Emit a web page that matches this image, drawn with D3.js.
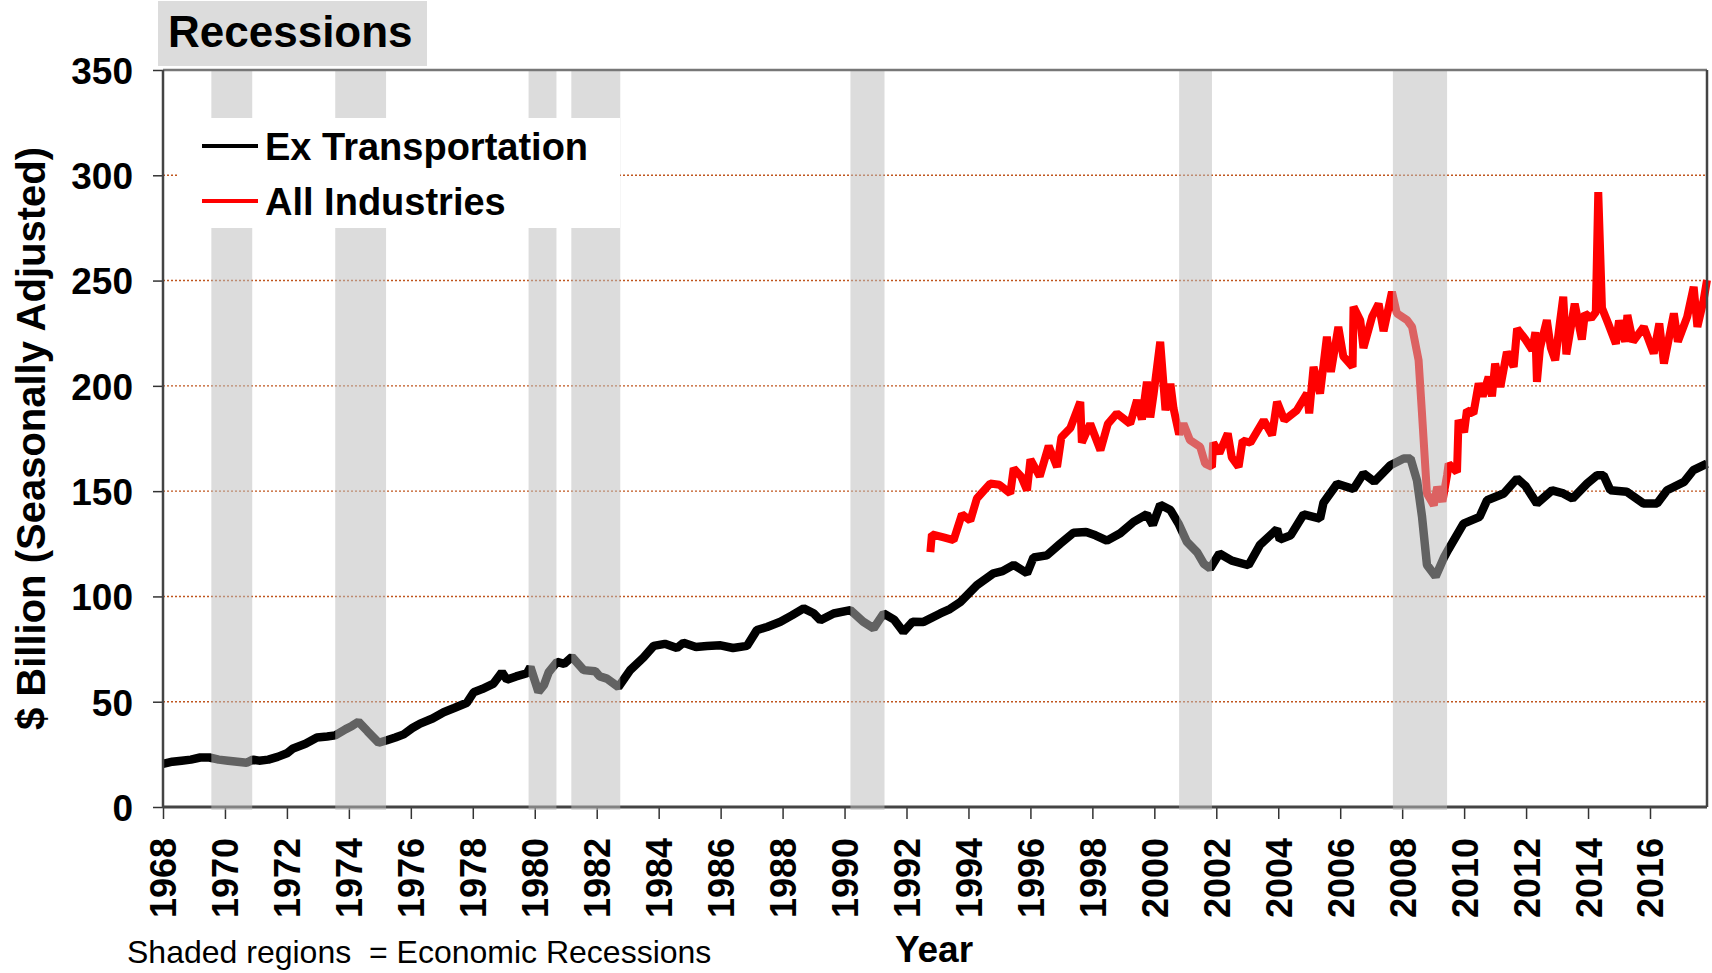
<!DOCTYPE html>
<html>
<head>
<meta charset="utf-8">
<script src="https://cdn.jsdelivr.net/npm/d3@7"></script>
<style>
  html, body { margin: 0; padding: 0; background: #fff; }
  svg { display: block; font-family: "Liberation Sans", Arial, sans-serif; }
</style>
</head>
<body>
<svg id="chart"></svg>
<script>
// [decimal year, $ billion]
const exTransportation = [
  [1968.0, 20.5], [1968.3, 21.5], [1968.6, 22], [1968.9, 22.5], [1969.2, 23.5], [1969.5, 23.5],
  [1969.8, 22.5], [1970.1, 22], [1970.4, 21.5], [1970.7, 21], [1970.9, 22.5], [1971.1, 22],
  [1971.4, 22.5], [1971.7, 23.8], [1972.0, 25.5], [1972.2, 27.8], [1972.6, 30], [1972.97, 33],
  [1973.3, 33.5], [1973.56, 34], [1973.9, 37], [1974.1, 38.5], [1974.31, 40.5], [1974.6, 36],
  [1974.96, 30.5], [1975.23, 31.7], [1975.5, 33], [1975.77, 34.5], [1976.05, 37.5], [1976.3, 39.6],
  [1976.7, 42], [1977.06, 45], [1977.4, 47], [1977.81, 49.5], [1978.03, 54.5], [1978.3, 56],
  [1978.67, 58.6], [1978.94, 64], [1979.1, 60.5], [1979.4, 62], [1979.75, 63.5], [1979.86, 66.5],
  [1980.12, 54.7], [1980.3, 58], [1980.45, 64], [1980.72, 68.9], [1980.95, 68], [1981.2, 71.3],
  [1981.58, 65], [1981.95, 64.5], [1982.1, 62], [1982.33, 61], [1982.7, 57], [1983.08, 65],
  [1983.51, 71], [1983.84, 76.5], [1984.2, 77.5], [1984.59, 75.5], [1984.8, 78], [1985.2, 76],
  [1985.56, 76.5], [1986.0, 76.8], [1986.4, 75.5], [1986.85, 76.5], [1987.17, 84], [1987.5, 85.5],
  [1987.93, 88], [1988.3, 91], [1988.68, 94.3], [1989.0, 92], [1989.22, 88.7], [1989.65, 91.9],
  [1990.19, 93.5], [1990.6, 88], [1990.94, 84.8], [1991.26, 91.9], [1991.6, 89], [1991.9, 83.2],
  [1992.2, 88], [1992.55, 87.9], [1993.09, 91.9], [1993.4, 94], [1993.74, 97.4], [1994.27, 105.3],
  [1994.81, 111], [1995.1, 112], [1995.46, 115], [1995.89, 111], [1996.1, 118.5], [1996.53, 119.5],
  [1996.96, 125], [1997.39, 130.2], [1997.8, 130.6], [1998.1, 129], [1998.47, 126.5], [1998.9, 130],
  [1999.33, 135.4], [1999.76, 139], [1999.95, 134], [2000.19, 143.5], [2000.52, 141], [2000.78, 134.6],
  [2001.05, 126], [2001.38, 121], [2001.6, 115.5], [2001.8, 113.3], [2002.1, 120.4], [2002.5, 117],
  [2003.04, 114.8], [2003.41, 124.5], [2003.96, 132], [2004.05, 127], [2004.4, 129], [2004.82, 139],
  [2005.35, 137], [2005.46, 144.5], [2005.9, 153.5], [2006.43, 151], [2006.75, 158.4], [2007.1, 154.5],
  [2007.62, 162.3], [2008.05, 165.5], [2008.27, 165.5], [2008.48, 155], [2008.64, 138], [2008.8, 115],
  [2009.08, 109.5], [2009.36, 118.8], [2009.5, 122.5], [2009.98, 134.6], [2010.5, 137.8], [2010.74, 145.7],
  [2011.28, 148.9], [2011.71, 156], [2011.98, 152.5], [2012.35, 144.1], [2012.84, 150.4], [2013.2, 148.9],
  [2013.5, 146.5], [2013.97, 153.6], [2014.29, 157.6], [2014.5, 157.6], [2014.72, 150.4], [2015.25, 149.7],
  [2015.79, 144.1], [2016.23, 144.1], [2016.55, 150.4], [2017.1, 154.4], [2017.4, 160], [2017.84, 163.1]
];

const allIndustries = [
  [1992.77, 121], [1992.82, 129.5], [1993.2, 128], [1993.52, 126.7], [1993.79, 139], [1994.06, 136],
  [1994.27, 146.5], [1994.7, 153.6], [1995.0, 153], [1995.35, 148.9], [1995.46, 160.8], [1995.7, 157],
  [1995.89, 150.4], [1996.0, 165], [1996.3, 157], [1996.59, 171.5], [1996.86, 161.5], [1997.0, 175.6],
  [1997.29, 180], [1997.61, 192.4], [1997.66, 173], [1997.93, 182], [1998.26, 169.4], [1998.5, 182],
  [1998.79, 186.9], [1999.22, 182], [1999.44, 193.2], [1999.6, 184], [1999.76, 202], [1999.87, 185],
  [1999.98, 196.4], [2000.19, 220.9], [2000.36, 188.4], [2000.52, 201], [2000.62, 189.3], [2000.8, 177],
  [2000.94, 182], [2001.15, 174.2], [2001.48, 171], [2001.64, 163.1], [2001.86, 161.5], [2001.9, 173],
  [2002.1, 168], [2002.37, 177.4], [2002.5, 166], [2002.72, 161.5], [2002.85, 174], [2003.1, 173],
  [2003.53, 183.7], [2003.8, 176.6], [2003.96, 192.4], [2004.2, 183.7], [2004.6, 188.4], [2004.93, 196.4],
  [2005.0, 186.9], [2005.14, 209], [2005.35, 196.4], [2005.57, 223.3], [2005.7, 206.6], [2005.94, 228],
  [2006.1, 214], [2006.4, 209], [2006.43, 237.5], [2006.65, 231], [2006.75, 218], [2007.03, 232.8],
  [2007.24, 239], [2007.4, 226], [2007.67, 244.6], [2007.83, 234.4], [2008.16, 231.2], [2008.32, 228],
  [2008.53, 212.2], [2008.64, 186.9], [2008.8, 148.9], [2009.02, 143.3], [2009.13, 152], [2009.3, 145],
  [2009.45, 157.6], [2009.5, 163], [2009.77, 159], [2009.82, 183.7], [2010.0, 178], [2010.09, 188.4],
  [2010.3, 186.9], [2010.47, 201.1], [2010.6, 195], [2010.79, 204.3], [2010.9, 195], [2011.0, 210.6],
  [2011.17, 199.5], [2011.38, 216.1], [2011.6, 209], [2011.71, 227.2], [2011.98, 222], [2012.2, 217],
  [2012.3, 225.5], [2012.35, 201.9], [2012.45, 218], [2012.67, 231.2], [2012.8, 218], [2012.94, 212.2],
  [2013.1, 231], [2013.2, 242.3], [2013.3, 215], [2013.57, 239], [2013.8, 222], [2013.9, 234.4],
  [2014.1, 232], [2014.25, 235], [2014.33, 292], [2014.45, 237], [2014.65, 229.6], [2014.9, 220],
  [2015.0, 231], [2015.2, 221], [2015.27, 233.6], [2015.45, 221], [2015.8, 228], [2016.12, 215.4],
  [2016.3, 229.6], [2016.45, 210.6], [2016.77, 234.4], [2016.9, 221], [2017.2, 232.8], [2017.41, 247],
  [2017.53, 228], [2017.73, 240.7], [2017.84, 250.2]
];

// recession shading, start / end year as drawn
const recessions = [
  [1969.56, 1970.88], [1973.56, 1975.2], [1979.8, 1980.7], [1981.18, 1982.76],
  [1990.19, 1991.29], [2000.8, 2001.86], [2007.7, 2009.45]
];

const yTicks = [0, 50, 100, 150, 200, 250, 300, 350];
const xTicks = d3.range(1968, 2017, 2);

const legendItems = [
  {name: "Ex Transportation", color: "#000000"},
  {name: "All Industries", color: "#ff0000"}
];

const W = 1712, H = 973;
const margin = {top: 70, right: 5, bottom: 166, left: 163};
const width = W - margin.left - margin.right,
  height = H - margin.top - margin.bottom;

const svg = d3.select("#chart").attr("width", W).attr("height", H);

const x = d3.scaleLinear().domain([1968, 2017.84]).range([0, width]);
const y = d3.scaleLinear().domain([0, 350]).range([height, 0]);

const g = svg.append("g")
  .attr("transform", "translate(" + margin.left + "," + margin.top + ")");

// dotted grid
g.selectAll(".grid")
  .data(yTicks.filter(d => d > 0 && d < 350))
  .enter().append("line")
  .attr("x1", 0).attr("x2", width)
  .attr("y1", d => y(d)).attr("y2", d => y(d))
  .style("stroke", "#c0561e")
  .style("stroke-width", 1.4)
  .style("stroke-dasharray", "2,2");

// axes
const yAxis = g.append("g")
  .call(d3.axisLeft(y).tickValues(yTicks).tickSize(10).tickPadding(20));
yAxis.select(".domain").remove();
yAxis.selectAll(".tick line").style("stroke", "#333").style("stroke-width", 1.5);
yAxis.selectAll("text")
  .style("font-size", "37px").style("font-weight", "bold").style("fill", "#000")
  .attr("dy", "0.36em");

const xAxis = g.append("g")
  .attr("transform", "translate(0," + height + ")")
  .call(d3.axisBottom(x).tickValues(xTicks).tickFormat(d3.format("d")).tickSize(12));
xAxis.select(".domain").remove();
xAxis.selectAll(".tick line").style("stroke", "#333").style("stroke-width", 1.5);
xAxis.selectAll("text")
  .style("font-size", "36px").style("font-weight", "bold").style("fill", "#000")
  .style("text-anchor", "end")
  .attr("transform", "rotate(-90)")
  .attr("x", -31).attr("y", 0).attr("dy", "0.36em");

// series
const line = d3.line().x(d => x(d[0])).y(d => y(d[1]));

g.append("path")
  .datum(exTransportation)
  .attr("d", line)
  .style("fill", "none").style("stroke", "#000")
  .style("stroke-width", 8.5).style("stroke-linejoin", "bevel");

g.append("path")
  .datum(allIndustries)
  .attr("d", line)
  .style("fill", "none").style("stroke", "#ff0000")
  .style("stroke-width", 8).style("stroke-linejoin", "bevel");

// bottom axis line
g.append("line")
  .attr("x1", 0).attr("x2", width).attr("y1", height).attr("y2", height)
  .style("stroke", "#444").style("stroke-width", 3);

// recession bands lie over the lines, washing them out
g.selectAll(".recession")
  .data(recessions)
  .enter().append("rect")
  .attr("x", d => x(d[0]))
  .attr("width", d => x(d[1]) - x(d[0]))
  .attr("y", 0)
  .attr("height", height + 3)
  .style("fill", "rgb(187,187,187)")
  .style("fill-opacity", 0.52);

// frame
g.append("line")
  .attr("x1", 0).attr("x2", width).attr("y1", 0).attr("y2", 0)
  .style("stroke", "#777").style("stroke-width", 2.5);
g.append("line")
  .attr("x1", width).attr("x2", width).attr("y1", 0).attr("y2", height)
  .style("stroke", "#444").style("stroke-width", 2.5);
g.append("line")
  .attr("x1", 0).attr("x2", 0).attr("y1", 0).attr("y2", height + 1)
  .style("stroke", "#444").style("stroke-width", 2.5);

// legend
const legend = svg.append("g").attr("transform", "translate(179,118)");
legend.append("rect")
  .attr("width", 441).attr("height", 110)
  .style("fill", "#fff");
const li = legend.selectAll(".item")
  .data(legendItems)
  .enter().append("g")
  .attr("transform", (d, i) => "translate(0," + (28 + i * 55) + ")");
li.append("line")
  .attr("x1", 23).attr("x2", 79)
  .style("stroke", d => d.color).style("stroke-width", 4);
li.append("text")
  .attr("x", 86).attr("dy", "0.36em")
  .style("font-size", "38px").style("font-weight", "bold")
  .text(d => d.name);

// title box
svg.append("rect")
  .attr("x", 158).attr("y", 1).attr("width", 269).attr("height", 65)
  .style("fill", "#dcdcdc");
svg.append("text")
  .attr("x", 168).attr("y", 47)
  .style("font-size", "44px").style("font-weight", "bold")
  .text("Recessions");

// axis titles and note
svg.append("text")
  .attr("transform", "translate(45," + (margin.top + y(175)) + ") rotate(-90)")
  .style("text-anchor", "middle")
  .style("font-size", "40px").style("font-weight", "bold")
  .text("$ Billion (Seasonally Adjusted)");

svg.append("text")
  .attr("x", 934).attr("y", 962)
  .style("text-anchor", "middle")
  .style("font-size", "37px").style("font-weight", "bold")
  .text("Year");

svg.append("text")
  .attr("x", 127).attr("y", 963)
  .style("font-size", "32px")
  .style("white-space", "pre")
  .text("Shaded regions  = Economic Recessions");
</script>
</body>
</html>
